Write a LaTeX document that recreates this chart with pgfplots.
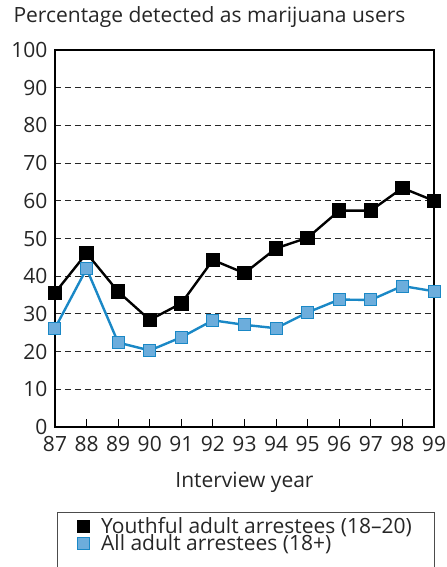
\documentclass[border=0pt]{standalone}
\usepackage{pgfplots}
\pgfplotsset{compat=1.18}
\usepackage{fontspec}
\setmainfont{Open Sans}
\definecolor{bline}{HTML}{1A88C6}
\definecolor{bfill}{HTML}{6CADDC}
\newcommand{\fs}{\fontsize{21bp}{18bp}\selectfont}
\begin{document}
\begin{tikzpicture}
\begin{axis}[
  scale only axis,
  width=379bp, height=377bp,
  xmin=87, xmax=99, ymin=0, ymax=100,
  xtick={87,...,99}, ytick={0,10,...,100},
  /pgf/number format/assume math mode=true,
  tick label style={font=\fs, text=black!85},
  label style={font=\fs, text=black!85},
  xtick pos=bottom, tick align=inside,
  major tick length=8bp,
  ytick style={draw=none},
  xtick style={line width=1bp, black},
  ymajorgrids,
  grid style={dash pattern=on 6bp off 4bp, line width=1bp, black!85},
  axis line style={line width=1.2bp},
  xlabel={Interview year},
  xlabel style={at={(0.5,0)}, anchor=base, yshift=-60bp},
  title={Percentage detected as marijuana users},
  title style={at={(0,1)}, anchor=base west, xshift=-45bp, yshift=22bp, font=\fs, text=black!85},
  yticklabel style={xshift=-4bp},
  xticklabel style={yshift=-6bp},
  legend style={at={(0.058,-0.233)}, anchor=north west, draw=none, fill=none,
    font=\fs, text=black!85, row sep=-4bp, inner sep=0bp, column sep=10bp},
  legend cell align=left,
  legend image code/.code={\draw[#1] plot coordinates {(0.25cm,0)};},
  clip=false,
]
\addplot[black, line width=2.4bp, mark=square*, mark size=6bp, mark options={fill=black}, forget plot]
coordinates {(87,35.6)(88,46.1)(89,35.9)(90,28.4)(91,32.8)(92,44.3)(93,40.8)(94,47.4)(95,50.2)(96,57.4)(97,57.4)(98,63.4)(99,60.0)};
\addplot[bline, line width=2.4bp, mark=square*, mark size=6bp, mark options={fill=bfill, draw=bline, line width=1bp}, forget plot]
coordinates {(87,26.2)(88,42.0)(89,22.4)(90,20.3)(91,23.8)(92,28.3)(93,27.1)(94,26.2)(95,30.4)(96,33.8)(97,33.7)(98,37.4)(99,36.0)};
\addlegendimage{only marks, mark=square*, mark size=6bp, black, mark options={fill=black}}
\addlegendentry{Youthful adult arrestees (18–20)}
\addlegendimage{only marks, mark=square*, mark size=6bp, mark options={fill=bfill, draw=bline, line width=0.8bp}}
\addlegendentry{All adult arrestees (18+)}
\end{axis}
\draw[line width=1bp, black!70] (2bp,-150bp) -- (2bp,-85bp) -- (379bp,-85bp) -- (379bp,-150bp);
\pgfresetboundingbox
\path (-55bp,-140bp) rectangle (392bp,427bp);
\end{tikzpicture}
\end{document}
